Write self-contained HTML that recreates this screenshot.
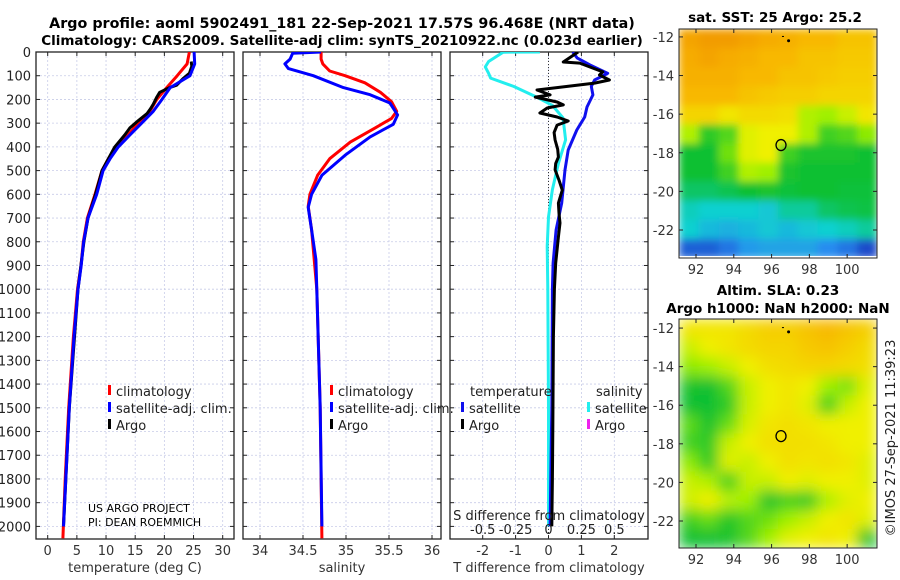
<!DOCTYPE html>
<html><head><meta charset="utf-8">
<style>
body{margin:0;background:#fff;}
svg{display:block;font-family:"DejaVu Sans","Liberation Sans",sans-serif;}
</style></head>
<body>
<svg id="fig" width="900" height="580" viewBox="0 0 900 580">
<defs>
<filter id="blurSST" x="0" y="0" width="1" height="1"><feGaussianBlur stdDeviation="4" edgeMode="duplicate"/></filter>
<filter id="blurSLA" x="0" y="0" width="1" height="1"><feGaussianBlur stdDeviation="7" edgeMode="duplicate"/></filter>
<clipPath id="clipMap1"><rect x="679" y="29" width="198" height="229"/></clipPath>
<clipPath id="clipMap2"><rect x="679" y="319" width="198" height="229"/></clipPath>
<clipPath id="clipP1"><rect x="36" y="52" width="198" height="487"/></clipPath>
<clipPath id="clipP2"><rect x="243" y="52" width="198" height="487"/></clipPath>
<clipPath id="clipP3"><rect x="450" y="52" width="198" height="487"/></clipPath>
</defs>
<g id="root"></g>
<text x="342" y="28" text-anchor="middle" font-size="14.3" font-weight="bold">Argo profile: aoml 5902491_181 22-Sep-2021 17.57S 96.468E (NRT data)</text>
<text x="342" y="45" text-anchor="middle" font-size="13.5" font-weight="bold">Climatology: CARS2009. Satellite-adj clim: synTS_20210922.nc (0.023d earlier)</text>
<text x="775" y="22" text-anchor="middle" font-size="13.5" font-weight="bold">sat. SST: 25 Argo: 25.2</text>
<text x="778" y="295" text-anchor="middle" font-size="13.5" font-weight="bold">Altim. SLA: 0.23</text>
<text x="778" y="313" text-anchor="middle" font-size="13.5" font-weight="bold">Argo h1000: NaN h2000: NaN</text>
<text transform="translate(895,438) rotate(-90)" text-anchor="middle" font-size="13" fill="#222">©IMOS 27-Sep-2021 11:39:23</text>
<text x="88" y="512" font-size="11">US ARGO PROJECT</text>
<text x="88" y="526" font-size="11">PI: DEAN ROEMMICH</text>
</svg>
<script>
// ---------- data ----------
const depthTicks=[0,100,200,300,400,500,600,700,800,900,1000,1100,1200,1300,1400,1500,1600,1700,1800,1900,2000];
const tempTicks=[0,5,10,15,20,25,30];
const salTicks=[34,34.5,35,35.5,36];
const salTickLabels=["34","34.5","35","35.5","36"];
const tdiffTicks=[-2,-1,0,1,2];
const sdiffTicks=[-0.5,-0.25,0,0.25,0.5];
const sdiffTickLabels=["-0.5","-0.25","0","0.25","0.5"];

const tClimDepth=[0,50,100,150,200,250,300,350,400,450,500,600,700,800,900,1000,1200,1500,1800,2050];
const tClimVal=[24.3,23.9,22.2,20.4,18.7,17.5,15.5,13.8,11.9,10.4,9.3,8.1,6.8,6.1,5.7,5.1,4.4,3.6,3.0,2.6];
const tSatDepth=[0,50,100,150,200,250,300,350,400,450,500,600,700,800,900,1000,1200,1500,1800,2000];
const tSatVal=[25.1,25.2,24.4,21,19.6,18.1,16.1,14.1,12.1,10.7,9.5,8.4,6.9,6.15,5.75,5.2,4.5,3.7,3.1,2.7];
const tArgoDepth=[40,60,90,110,140,150,170,190,220,240,260,290,320,350,400,450,500,600,700,800,1000,1500,2000];
const tArgoVal=[24.6,24.7,24.3,23.3,22.1,20.9,19.2,18.7,18.1,17.6,17.0,15.5,14.1,13.2,11.5,10.4,9.3,8.2,6.9,6.2,5.2,3.7,2.7];

const sClimDepth=[0,30,50,80,100,130,170,210,250,280,320,380,450,520,600,650,750,1000,1500,2050];
const sClimVal=[34.71,34.71,34.73,34.81,34.99,35.22,35.4,35.53,35.59,35.53,35.34,35.05,34.81,34.67,34.58,34.56,34.6,34.66,34.7,34.72];
const sSatDepth=[0,5,30,50,70,100,150,180,215,265,305,358,435,520,600,655,750,875,1000,1500,2000];
const sSatVal=[34.71,34.38,34.35,34.29,34.33,34.62,34.97,35.28,35.51,35.6,35.55,35.28,34.99,34.72,34.6,34.56,34.6,34.65,34.66,34.7,34.72];

const dSalDepth=[0,1,40,63,90,110,145,190,225,278,370,470,580,695,820,1000,1500,2000];
const dSalVal=[-0.065,-0.345,-0.455,-0.48,-0.455,-0.44,-0.265,-0.09,0.03,0.11,0.13,0.075,0.03,0,-0.01,-0.005,0,0];
const dTSatDepth=[0,25,55,90,118,145,181,232,274,329,413,497,637,750,890,1000,1500,2000];
const dTSatVal=[0.74,0.87,1.26,1.8,1.4,1.3,1.35,1.17,1.1,0.86,0.6,0.5,0.4,0.23,0.14,0.12,0.1,0.05];
const dTArgoDepth=[0,42,47,84,97,118,131,160,181,190,211,223,236,257,274,291,308,340,371,410,443,470,497,540,582,637,680,721,780,890,1000,1200,1400,1600,1800,2000];
const dTArgoVal=[0.9,0.45,0.95,1.65,1.55,1.85,1.4,-0.35,0.05,-0.4,0.26,0.45,-0.04,-0.26,0.26,0.6,0.26,0.17,0.2,0.28,0.3,0.22,0.2,0.32,0.42,0.3,0.32,0.35,0.3,0.22,0.18,0.15,0.14,0.13,0.12,0.1];

// maps: 12 rows (north->south) x 10 cols (west->east), colormap index 0..1
const sstGrid=[
[0.95,0.97,0.97,0.95,0.93,0.92,0.9,0.9,0.88,0.88],
[0.93,0.95,0.93,0.92,0.9,0.9,0.88,0.88,0.87,0.87],
[0.92,0.92,0.92,0.9,0.9,0.88,0.88,0.87,0.86,0.86],
[0.9,0.9,0.9,0.88,0.87,0.86,0.86,0.85,0.85,0.85],
[0.85,0.85,0.82,0.84,0.84,0.83,0.72,0.7,0.75,0.82],
[0.72,0.58,0.62,0.78,0.8,0.8,0.72,0.6,0.62,0.68],
[0.55,0.55,0.65,0.78,0.8,0.6,0.56,0.56,0.56,0.55],
[0.55,0.55,0.6,0.72,0.7,0.56,0.55,0.55,0.55,0.55],
[0.5,0.5,0.52,0.55,0.56,0.54,0.55,0.55,0.54,0.54],
[0.42,0.4,0.4,0.4,0.38,0.45,0.45,0.5,0.52,0.53],
[0.4,0.35,0.33,0.35,0.38,0.35,0.38,0.4,0.42,0.45],
[0.15,0.15,0.2,0.28,0.3,0.3,0.3,0.25,0.2,0.1]];
const slaGrid=[
[0.82,0.82,0.82,0.84,0.86,0.86,0.88,0.9,0.88,0.86],
[0.75,0.8,0.82,0.84,0.85,0.85,0.87,0.88,0.86,0.84],
[0.68,0.7,0.75,0.8,0.83,0.84,0.85,0.85,0.84,0.83],
[0.56,0.55,0.62,0.75,0.8,0.82,0.8,0.7,0.66,0.78],
[0.55,0.55,0.58,0.75,0.8,0.82,0.78,0.6,0.75,0.8],
[0.63,0.56,0.64,0.77,0.82,0.83,0.82,0.8,0.8,0.8],
[0.6,0.58,0.75,0.8,0.83,0.83,0.83,0.82,0.8,0.8],
[0.68,0.58,0.78,0.75,0.8,0.83,0.82,0.83,0.82,0.78],
[0.75,0.72,0.6,0.75,0.75,0.8,0.78,0.8,0.8,0.78],
[0.76,0.8,0.73,0.7,0.56,0.6,0.58,0.72,0.78,0.8],
[0.6,0.64,0.57,0.62,0.65,0.7,0.75,0.8,0.82,0.78],
[0.55,0.55,0.56,0.62,0.7,0.78,0.8,0.82,0.8,0.56]];
const lonTicks=[92,94,96,98,100];
const latTicks=[-12,-14,-16,-18,-20,-22];
const floatLon=[96.5];
const floatLat=[-17.6];

// ---------- helpers ----------
const NS="http://www.w3.org/2000/svg";
const root=document.getElementById('root');
function mk(tag,attrs,parent){const e=document.createElementNS(NS,tag);for(const k in attrs)e.setAttribute(k,attrs[k]);(parent||root).appendChild(e);return e;}
const depthY=d=>52+d*0.2372;
function linScale(v0,p0,v1,p1){return v=>p0+(v-v0)*(p1-p0)/(v1-v0);}

function panel(x0,name){
  const g=mk('g',{});
  
  
  return g;
}
function drawAxesFrame(g,x0,x1,xs,ticks,labels,showDepthLabels,name){
  ticks.forEach(t=>{const x=xs(t);
    const l=mk('line',{x1:x,x2:x,y1:52,y2:539,stroke:'#c8cce8','stroke-width':0.8,'stroke-dasharray':'2,2'},g);
    });
  depthTicks.forEach(d=>{const y=depthY(d);
    const l=mk('line',{x1:x0,x2:x1,y1:y,y2:y,stroke:'#c8cce8','stroke-width':0.8,'stroke-dasharray':'2,2'},g);
    
    mk('line',{x1:x0,x2:x0+4,y1:y,y2:y,stroke:'#222'},g);
    mk('line',{x1:x1-4,x2:x1,y1:y,y2:y,stroke:'#222'},g);
    if(showDepthLabels){const t=mk('text',{x:x0-5,y:y+5,'text-anchor':'end','font-size':13,fill:'#222'},g);t.textContent=d;
      }
  });
  ticks.forEach((t,i)=>{const x=xs(t);
    mk('line',{x1:x,x2:x,y1:539,y2:535,stroke:'#222'},g);
    mk('line',{x1:x,x2:x,y1:52,y2:56,stroke:'#222'},g);
    const tx=mk('text',{x:x,y:555,'text-anchor':'middle','font-size':13,fill:'#333'},g);tx.textContent=labels[i];
    });
  const r=mk('rect',{x:x0,y:52,width:x1-x0,height:487,fill:'none',stroke:'#222','stroke-width':1.3},g);
  
}
function drawLine(g,depths,vals,xs,color,w,clip,name){
  const pts=depths.map((d,i)=>xs(vals[i]).toFixed(1)+','+depthY(d).toFixed(1)).join(' ');
  const p=mk('polyline',{points:pts,fill:'none',stroke:color,'stroke-width':w,'stroke-linejoin':'round','clip-path':'url(#'+clip+')'},g);
  
}
function legendEntry(g,x,y,color,label){
  const gg=mk('g',{},g);
  
  mk('rect',{x:x,y:y-11,width:3,height:10,fill:color},gg);
  const t=mk('text',{x:x+8,y:y,'font-size':13,fill:'#222'},gg);t.textContent=label;
}

// ---------- panel 1: temperature ----------
const xT=linScale(0,47.7,30,222.7);
const p1=panel(36,'temperature-panel');
drawAxesFrame(p1,36,234,xT,tempTicks,tempTicks.map(String),true,'temperature-axes');
drawLine(p1,tClimDepth,tClimVal,xT,'#ff0000',3,'clipP1','temp-climatology-line');
drawLine(p1,tArgoDepth,tArgoVal,xT,'#000000',3,'clipP1','temp-argo-line');
drawLine(p1,tSatDepth,tSatVal,xT,'#0000ff',3,'clipP1','temp-satellite-line');
legendEntry(p1,108,396,'#ff0000','climatology');
legendEntry(p1,108,413,'#0000ff','satellite-adj. clim.');
legendEntry(p1,108,430,'#000000','Argo');
let t=mk('text',{x:135,y:572,'text-anchor':'middle','font-size':13,fill:'#333'},p1);t.textContent='temperature (deg C)';


// ---------- panel 2: salinity ----------
const xS=linScale(34,260,36,432);
const p2=panel(243,'salinity-panel');
drawAxesFrame(p2,243,441,xS,salTicks,salTickLabels,false,'salinity-axes');
drawLine(p2,sClimDepth,sClimVal,xS,'#ff0000',3,'clipP2','sal-climatology-line');
drawLine(p2,sSatDepth,sSatVal,xS,'#0000ff',3,'clipP2','sal-satellite-line');
legendEntry(p2,330,396,'#ff0000','climatology');
legendEntry(p2,330,413,'#0000ff','satellite-adj. clim.');
legendEntry(p2,330,430,'#000000','Argo');
t=mk('text',{x:342,y:572,'text-anchor':'middle','font-size':13,fill:'#333'},p2);t.textContent='salinity';


// ---------- panel 3: differences ----------
const xD=linScale(0,548.5,1,581.4);
const xSD=linScale(0,548.5,0.5,614.3);
const p3=panel(450,'difference-panel');
drawAxesFrame(p3,450,648,xD,tdiffTicks,tdiffTicks.map(String),false,'difference-axes');
mk('line',{x1:xD(0),x2:xD(0),y1:52,y2:539,stroke:'#333','stroke-width':1,'stroke-dasharray':'1,2'},p3);
drawLine(p3,dSalDepth,dSalVal,xSD,'#22eeee',3,'clipP3','sal-diff-satellite-line');
drawLine(p3,dTSatDepth,dTSatVal,xD,'#1010ee',3,'clipP3','temp-diff-satellite-line');
drawLine(p3,dTArgoDepth,dTArgoVal,xD,'#000000',3,'clipP3','temp-diff-argo-line');
t=mk('text',{x:470,y:396,'font-size':13,fill:'#222'},p3);t.textContent='temperature';

t=mk('text',{x:596,y:396,'font-size':13,fill:'#222'},p3);t.textContent='salinity';

legendEntry(p3,461,413,'#1010ee','satellite');
legendEntry(p3,461,430,'#000000','Argo');
legendEntry(p3,587,413,'#22eeee','satellite');
legendEntry(p3,587,430,'#ee22ee','Argo');
t=mk('text',{x:549,y:520,'text-anchor':'middle','font-size':13,fill:'#222'},p3);t.textContent='S difference from climatology';

sdiffTicks.forEach((v,i)=>{const tt=mk('text',{x:xSD(v),y:534,'text-anchor':'middle','font-size':13,fill:'#222'},p3);tt.textContent=sdiffTickLabels[i];
  });
t=mk('text',{x:549,y:572,'text-anchor':'middle','font-size':13,fill:'#333'},p3);t.textContent='T difference from climatology';


// ---------- maps ----------
const cmapStops=[[0,[16,32,176]],[0.25,[40,140,240]],[0.4,[16,208,208]],[0.55,[16,192,48]],[0.7,[160,240,0]],[0.8,[240,240,0]],[0.9,[248,184,0]],[1,[240,144,0]]];
function cmap(v){for(let i=1;i<cmapStops.length;i++){if(v<=cmapStops[i][0]){const a=cmapStops[i-1],b=cmapStops[i],f=(v-a[0])/(b[0]-a[0]);
  return 'rgb('+a[1].map((c,j)=>Math.round(c+(b[1][j]-c)*f)).join(',')+')';}}return 'rgb(240,144,0)';}
function drawMap(grid,y0,latTop,latBot,filt,clip,name,whiteBottom){
  const g=mk('g',{});
  
  const lonL=91.1,lonR=101.58;
  const xm=linScale(lonL,679,lonR,877), ym=linScale(latTop,y0,latBot,y0+229);
  const cg=mk('g',{'clip-path':'url(#'+clip+')'},g);
  const fg=mk('g',{filter:'url(#'+filt+')'},cg);
  const rows=grid.length,cols=grid[0].length;
  const cw=198/cols,ch=229/rows;
  grid.forEach((row,r)=>row.forEach((v,c)=>{
    const cell=mk('rect',{x:679+c*cw,y:y0+r*ch,width:cw+0.5,height:ch+0.5,fill:cmap(v)},fg);
    
  }));
  if(whiteBottom) mk('rect',{x:679,y:y0+227,width:198,height:2,fill:'#fff'},g);
  mk('rect',{x:679,y:y0,width:198,height:229,fill:'none',stroke:'#222','stroke-width':1},g);
  lonTicks.forEach(l=>{const x=xm(l);mk('line',{x1:x,x2:x,y1:y0+229,y2:y0+225,stroke:'#222'},g);mk('line',{x1:x,x2:x,y1:y0,y2:y0+4,stroke:'#222'},g);
    const tt=mk('text',{x:x,y:y0+245,'text-anchor':'middle','font-size':13,fill:'#333'},g);tt.textContent=l;
    });
  latTicks.forEach(l=>{const y=ym(l);mk('line',{x1:679,x2:683,y1:y,y2:y,stroke:'#222'},g);mk('line',{x1:873,x2:877,y1:y,y2:y,stroke:'#222'},g);
    const tt=mk('text',{x:674,y:y+5,'text-anchor':'end','font-size':13,fill:'#333'},g);tt.textContent=l;
    });
  const c=mk('ellipse',{cx:xm(floatLon[0]),cy:ym(floatLat[0]),rx:5,ry:5.5,fill:'none',stroke:'#000','stroke-width':1.3},g);
  
  mk('circle',{cx:xm(96.9),cy:ym(-12.2),r:1.5,fill:'#000'},g);
  mk('rect',{x:xm(96.55),y:ym(-11.95),width:2,height:1,fill:'#000'},g);
}
drawMap(sstGrid,29,-11.59,-23.45,'blurSST','clipMap1','sst-map',true);
drawMap(slaGrid,319,-11.53,-23.4,'blurSLA','clipMap2','sla-map',false);
</script>
</body></html>
